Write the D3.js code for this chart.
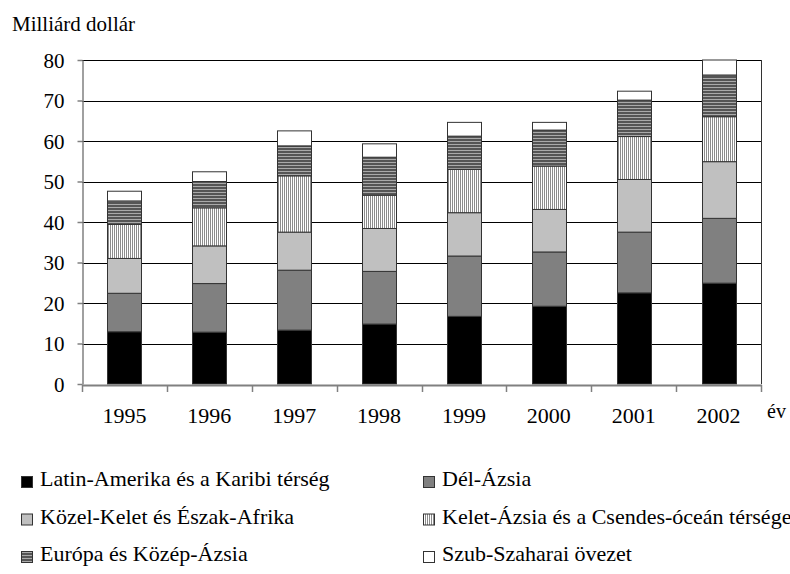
<!DOCTYPE html>
<html>
<head>
<meta charset="utf-8">
<script src="https://cdn.jsdelivr.net/npm/d3@7"></script>
<style>
  body { margin: 0; background: #fff; }
  svg { display: block; }
  svg text { font-family: "Liberation Serif", "DejaVu Serif", serif; }
</style>
</head>
<body>
<div id="chart"></div>
<script>
// data (milliard dollar)
var years = ['1995', '1996', '1997', '1998', '1999', '2000', '2001', '2002'];
var latinAmerica = [12.9, 12.8, 13.3, 14.8, 16.7, 19.2, 22.5, 24.9];
var southAsia = [9.5, 12.0, 14.8, 13.0, 14.9, 13.4, 15.0, 16.0];
var middleEast = [8.6, 9.3, 9.4, 10.6, 10.7, 10.5, 13.0, 14.0];
var eastAsia = [8.4, 9.4, 13.9, 8.2, 10.7, 10.7, 10.6, 11.1];
var europe = [5.8, 6.5, 7.4, 9.4, 8.2, 8.9, 9.0, 10.3];
var subSahara = [2.4, 2.4, 3.7, 3.3, 3.4, 1.9, 2.2, 3.7];
var seriesNames = ['Latin-Amerika és a Karibi térség', 'Dél-Ázsia', 'Közel-Kelet és Észak-Afrika',
  'Kelet-Ázsia és a Csendes-óceán térsége', 'Európa és Közép-Ázsia', 'Szub-Szaharai övezet'];
var yTicks = [0, 10, 20, 30, 40, 50, 60, 70, 80];

var svgWidth = 790, svgHeight = 574;
var plotLeft = 82, plotRight = 761, plotTop = 60, plotBottom = 384;

var svg = d3.select('#chart').append('svg')
  .attr('width', svgWidth)
  .attr('height', svgHeight);

// fills
var defs = svg.append('defs');
var vp = defs.append('pattern').attr('id', 'vstripe')
  .attr('patternUnits', 'userSpaceOnUse').attr('width', 2).attr('height', 4);
vp.append('rect').attr('width', 2).attr('height', 4).attr('fill', '#fff');
vp.append('rect').attr('width', 1).attr('height', 4).attr('fill', '#8c8c8c');

var hp = defs.append('pattern').attr('id', 'hstripe')
  .attr('patternUnits', 'userSpaceOnUse').attr('width', 4).attr('height', 3);
hp.append('rect').attr('width', 4).attr('height', 3).attr('fill', '#555');
hp.append('rect').attr('width', 4).attr('height', 1).attr('fill', '#aaa');

var fills = ['#000', '#808080', '#c0c0c0', 'url(#vstripe)', 'url(#hstripe)', '#fff'];

// table for the stack
var table = years.map(function(yr, i) {
  return { year: yr, s0: latinAmerica[i], s1: southAsia[i], s2: middleEast[i],
           s3: eastAsia[i], s4: europe[i], s5: subSahara[i] };
});
var keys = ['s0', 's1', 's2', 's3', 's4', 's5'];
var stacked = d3.stack().keys(keys)(table);

var x = d3.scaleBand().domain(years).range([plotLeft, plotRight])
  .paddingInner(0.6).paddingOuter(0.3);
var y = d3.scaleLinear().domain([0, 80]).range([plotBottom, plotTop]);

// gridlines
svg.append('g').selectAll('line')
  .data(yTicks.filter(function(d) { return d > 0; }))
  .enter().append('line')
  .attr('x1', plotLeft).attr('x2', plotRight)
  .attr('y1', function(d) { return Math.round(y(d)) + 0.5; })
  .attr('y2', function(d) { return Math.round(y(d)) + 0.5; })
  .attr('stroke', '#000').attr('stroke-width', 1);

// right border of plot area
svg.append('line')
  .attr('x1', plotRight + 0.5).attr('x2', plotRight + 0.5)
  .attr('y1', plotTop).attr('y2', plotBottom)
  .attr('stroke', '#333');

// bars
svg.append('g').selectAll('g')
  .data(stacked)
  .enter().append('g')
  .attr('fill', function(d, i) { return fills[i]; })
  .selectAll('rect')
  .data(function(d) { return d; })
  .enter().append('rect')
  .attr('x', function(d) { return Math.round(x(d.data.year)) + 0.5; })
  .attr('width', Math.round(x.bandwidth()))
  .attr('y', function(d) { return y(d[1]); })
  .attr('height', function(d) { return y(d[0]) - y(d[1]); })
  .attr('stroke', '#333').attr('stroke-width', 1);

// y axis
var yAxis = d3.axisLeft(y).tickValues(yTicks).tickSize(5).tickSizeOuter(0);
var gy = svg.append('g').attr('transform', 'translate(' + (plotLeft + 0.5) + ',0)').call(yAxis);
gy.attr('font-family', null);
gy.select('.domain').attr('stroke', '#808080').attr('stroke-width', 1.5);
gy.selectAll('.tick line').attr('stroke', '#808080').attr('stroke-width', 1.5);
gy.selectAll('.tick text')
  .attr('x', -18).attr('dy', '0.35em')
  .attr('font-size', 21).attr('fill', '#000');

// x axis line with ticks at the band edges
var step = x.step();
var x0 = x(years[0]) - x.paddingOuter() * step;
var edges = d3.range(years.length + 1).map(function(i) { return x0 + i * step; });
svg.append('line')
  .attr('x1', plotLeft).attr('x2', plotRight + 1)
  .attr('y1', plotBottom + 1.5).attr('y2', plotBottom + 1.5)
  .attr('stroke', '#808080').attr('stroke-width', 2);
svg.append('g').selectAll('line')
  .data(edges).enter().append('line')
  .attr('x1', function(d) { return Math.round(d) + 0.5; })
  .attr('x2', function(d) { return Math.round(d) + 0.5; })
  .attr('y1', plotBottom + 1).attr('y2', plotBottom + 8)
  .attr('stroke', '#808080').attr('stroke-width', 1.5);

svg.append('g').selectAll('text')
  .data(years).enter().append('text')
  .attr('x', function(d) { return x(d) + x.bandwidth() / 2; })
  .attr('y', 423)
  .attr('text-anchor', 'middle')
  .attr('font-size', 22)
  .text(function(d) { return d; });

svg.append('text').attr('x', 767).attr('y', 418).attr('font-size', 20).text('év');

svg.append('text').attr('x', 12).attr('y', 31).attr('font-size', 21).text('Milliárd dollár');

// legend
var legend = svg.append('g').selectAll('g')
  .data(seriesNames).enter().append('g')
  .attr('transform', function(d, i) {
    return 'translate(' + (i % 2 === 0 ? 21 : 423) + ',' + (486 + Math.floor(i / 2) * 37.5) + ')';
  });
legend.append('rect')
  .attr('x', 0.5).attr('y', -9.5)
  .attr('width', 11).attr('height', 11)
  .attr('fill', function(d, i) { return fills[i]; })
  .attr('stroke', '#333');
legend.append('text')
  .attr('x', 19).attr('y', 0)
  .attr('font-size', 22)
  .text(function(d) { return d; });
</script>
</body>
</html>
